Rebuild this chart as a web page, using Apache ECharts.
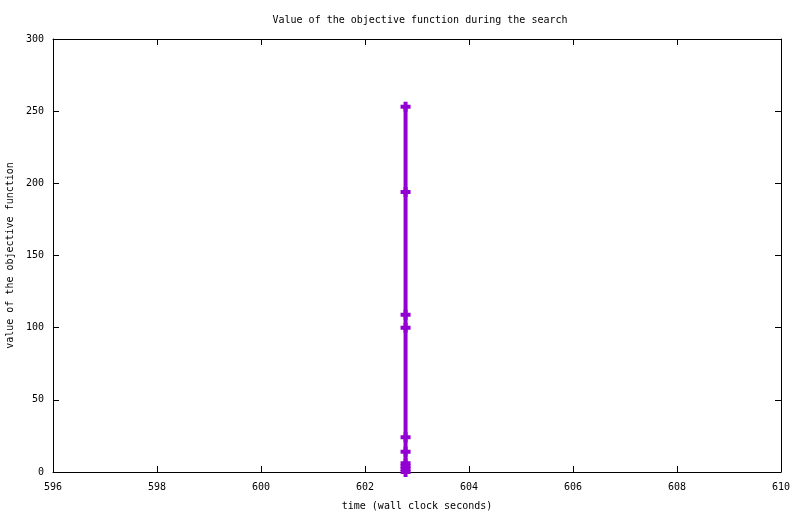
<!DOCTYPE html>
<html>
<head>
<meta charset="utf-8">
<script src="https://cdn.jsdelivr.net/npm/echarts@6/dist/echarts.min.js"></script>
<style>html,body{margin:0;padding:0;background:#fff;}#c{width:800px;height:514px;}</style>
</head>
<body>
<div id="c"></div>
<script>
const times = [602.78, 602.78, 602.78, 602.78, 602.78, 602.78, 602.78, 602.78, 602.78, 602.78];
const values = [253, 194, 109, 100, 24, 14, 6, 4, 2, 0];
const xTicks = [596, 598, 600, 602, 604, 606, 608, 610];
const yTicks = [0, 50, 100, 150, 200, 250, 300];

const FONT = '"DejaVu Sans Mono", monospace';
const plus = 'path://M3,0H7V3H10V7H7V10H3V7H0V3H3Z';
const axisCommon = {
  type: 'value',
  axisLine: {show: true, onZero: false, lineStyle: {color: '#000', width: 1}},
  axisTick: {show: true, inside: true, length: 6, lineStyle: {color: '#000'}},
  splitLine: {show: false}
};
const chart = echarts.init(document.getElementById('c'), null, {renderer: 'canvas'});
chart.setOption({
  animation: false,
  backgroundColor: '#fff',
  title: {
    text: 'Value of the objective function during the search',
    left: 415, top: 10, textAlign: 'center',
    textStyle: {fontFamily: FONT, fontSize: 10, fontWeight: 'normal', color: '#000'}
  },
  grid: {left: 53, right: 19, top: 39, bottom: 42, containLabel: false, outerBoundsMode: 'none'},
  xAxis: [
    Object.assign({}, axisCommon, {
      position: 'bottom', min: xTicks[0], max: xTicks[xTicks.length-1], interval: 2,
      name: 'time (wall clock seconds)', nameLocation: 'middle', nameGap: 29,
      nameTextStyle: {fontFamily: FONT, fontSize: 10, color: '#000'},
      axisLabel: {fontFamily: FONT, fontSize: 10, color: '#000', margin: 10}
    }),
    Object.assign({}, axisCommon, {
      position: 'top', min: xTicks[0], max: xTicks[xTicks.length-1], interval: 2,
      axisLabel: {show: false}
    })
  ],
  yAxis: [
    Object.assign({}, axisCommon, {
      position: 'left', min: yTicks[0], max: yTicks[yTicks.length-1], interval: 50,
      name: 'value of the objective function', nameLocation: 'middle', nameGap: 38,
      nameTextStyle: {fontFamily: FONT, fontSize: 10, color: '#000'},
      axisLabel: {fontFamily: FONT, fontSize: 10, color: '#000', margin: 9}
    }),
    Object.assign({}, axisCommon, {
      position: 'right', min: yTicks[0], max: yTicks[yTicks.length-1], interval: 50,
      axisLabel: {show: false}
    })
  ],
  series: [{
    type: 'line',
    data: times.map((t, i) => [t, values[i]]),
    symbol: plus,
    symbolSize: 10,
    showAllSymbol: true,
    clip: false,
    lineStyle: {color: '#9400D3', width: 4},
    itemStyle: {color: '#9400D3'}
  }]
});
</script>
</body>
</html>
